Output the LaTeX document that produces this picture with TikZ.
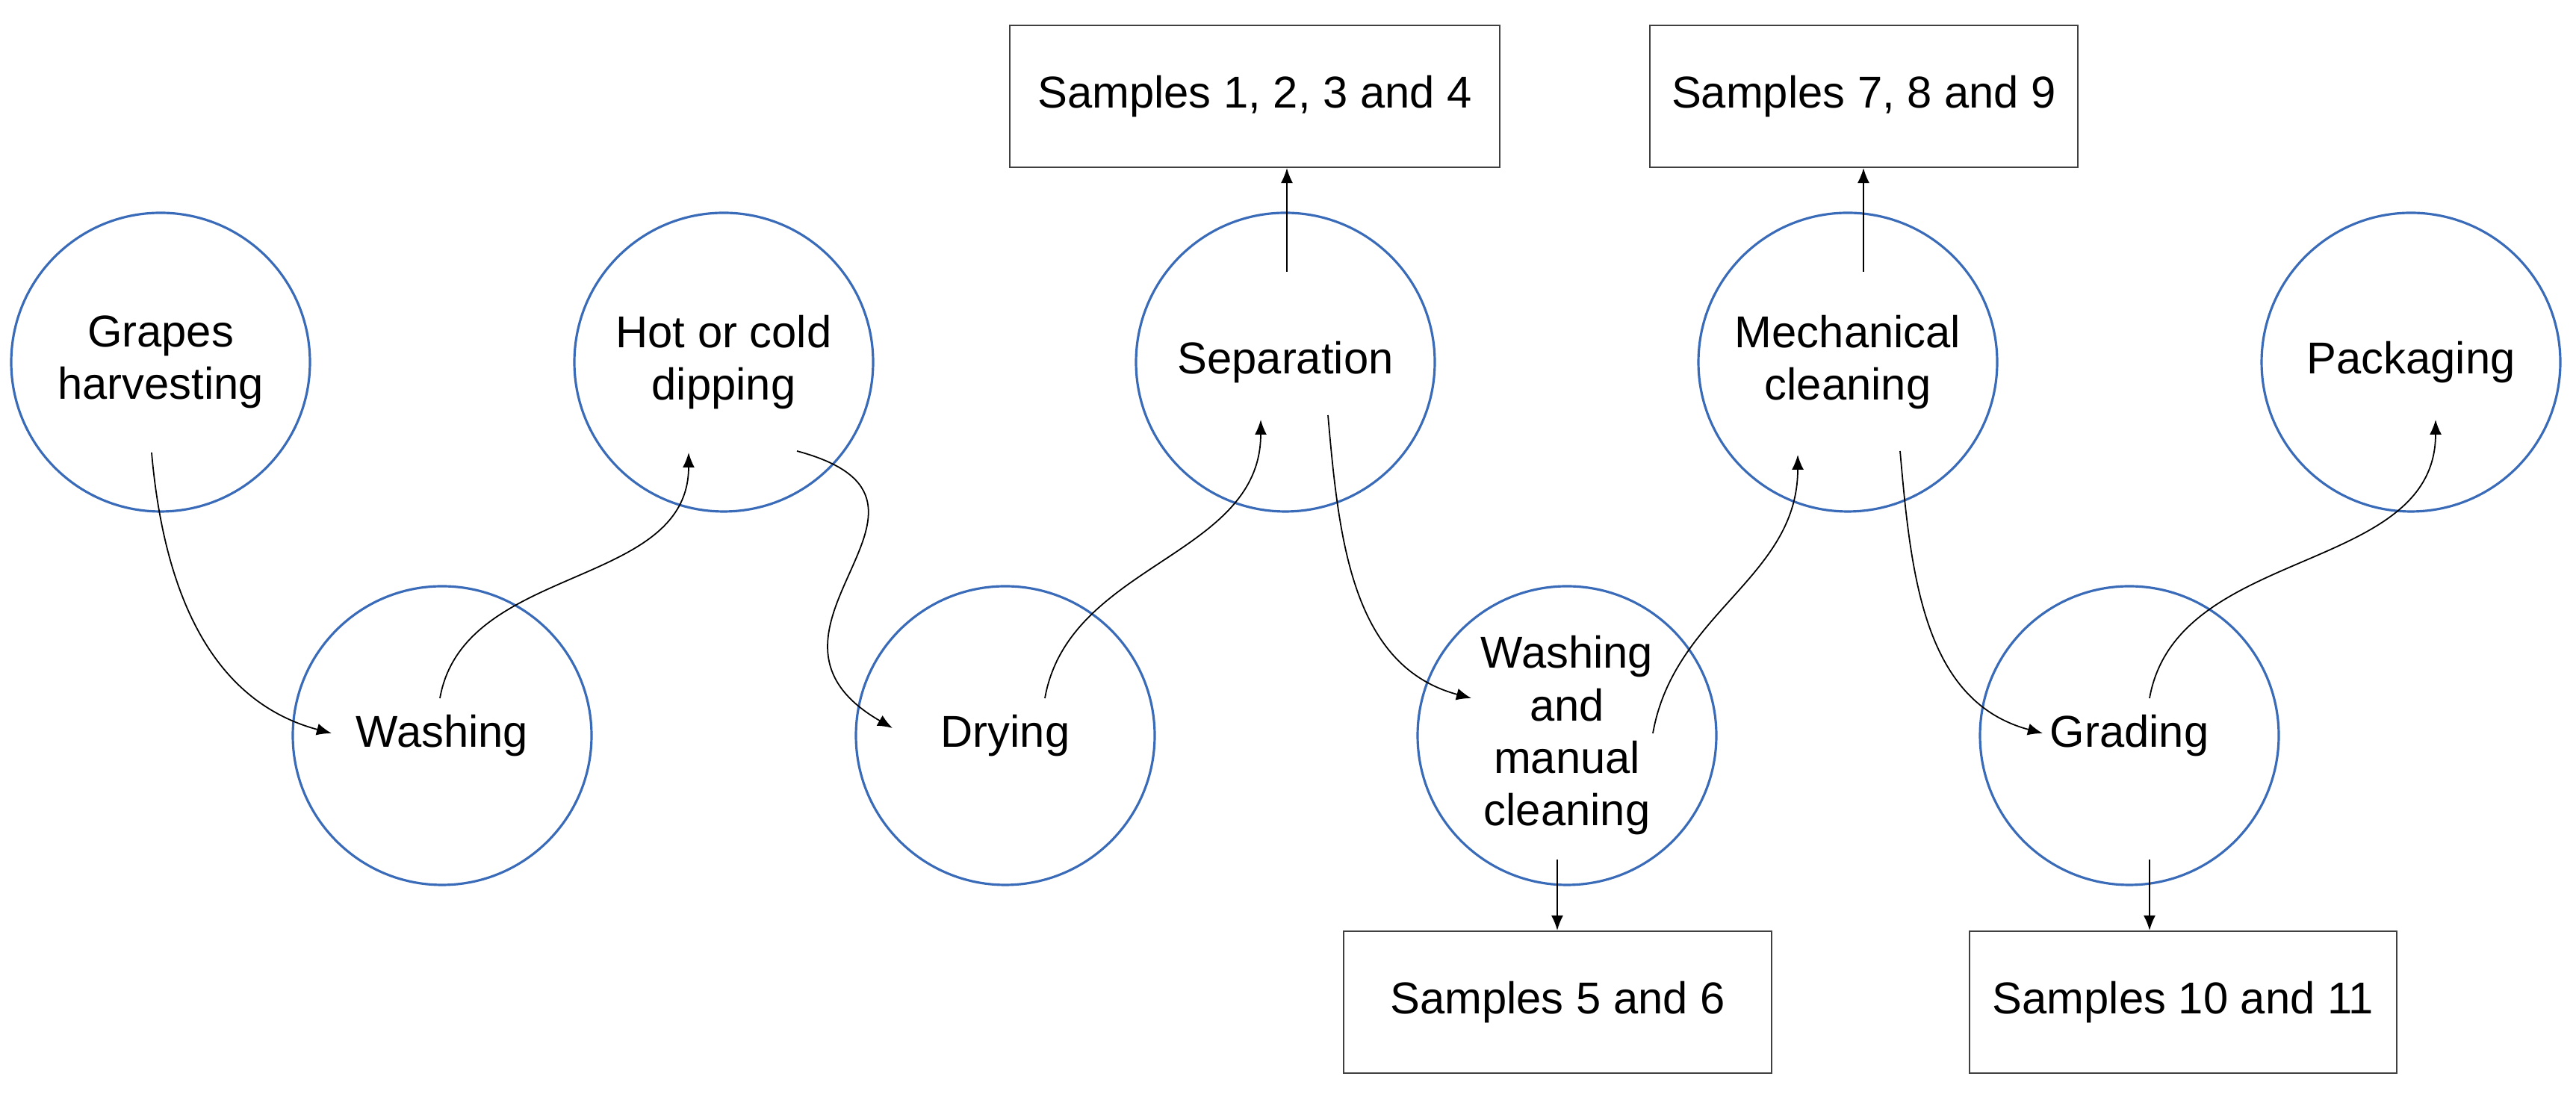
\documentclass[tikz,border=0pt]{standalone}
\usepackage{fontspec}
\setmainfont{Liberation Sans}
\usetikzlibrary{arrows.meta, positioning}
\definecolor{stepblue}{HTML}{3A6BB8}
\tikzset{
    stage/.style={
        circle, draw=stepblue, line width=0.9pt,
        inner sep=0pt, minimum size=4cm,
        align=center, font=\fontsize{17}{20}\selectfont
    },
    sample/.style={
        rectangle, draw=black!75, line width=0.6pt,
        minimum height=1.9cm, inner sep=0pt,
        font=\fontsize{17}{20}\selectfont
    },
    flow/.style={
        line width=0.5pt,
        -{Latex[length=2mm, width=1.6mm]},
    },
}
\begin{document}
\begin{tikzpicture}
        \useasboundingbox (0,0) rectangle (34.49,14.73);
        \node[stage] (grapes) at (2.15,9.88) {Grapes\\harvesting};
        \node[stage] (wash) at (5.92,4.88) {Washing};
        \node[stage] (dip) at (9.69,9.88) {Hot or cold\\dipping};
        \node[stage] (dry) at (13.46,4.88) {Drying};
        \node[stage] (sep) at (17.21,9.88) {Separation};
        \node[stage] (manual) at (20.98,4.88) {Washing\\and\\manual\\cleaning};
        \node[stage] (mech) at (24.74,9.88) {Mechanical\\cleaning};
        \node[stage] (grade) at (28.51,4.88) {Grading};
        \node[stage] (pack) at (32.28,9.88) {Packaging};

        \node[sample, minimum width=6.56cm] (s14) at (16.80,13.44) {Samples 1, 2, 3 and 4};
        \node[sample, minimum width=5.73cm] (s79) at (24.955,13.44) {Samples 7, 8 and 9};
        \node[sample, minimum width=5.73cm] (s56) at (20.855,1.31) {Samples 5 and 6};
        \node[sample, minimum width=5.72cm] (s1011) at (29.23,1.31) {Samples 10 and 11};

        % start and end points of the flow arrows
        \coordinate (a1) at (2.03,8.67);   \coordinate (b1) at (4.44,4.91);
        \coordinate (a2) at (5.89,5.38);   \coordinate (b2) at (9.22,8.67);
        \coordinate (a3) at (10.67,8.69);  \coordinate (b3) at (11.95,4.98);
        \coordinate (a4) at (13.99,5.38);  \coordinate (b4) at (16.88,9.11);
        \coordinate (a5) at (17.78,9.17);  \coordinate (b5) at (19.70,5.38);
        \coordinate (a6) at (22.13,4.91);  \coordinate (b6) at (24.07,8.64);
        \coordinate (a7) at (25.44,8.69);  \coordinate (b7) at (27.35,4.91);
        \coordinate (a8) at (28.78,5.38);  \coordinate (b8) at (32.61,9.11);

        \foreach \i in {1,5,7}
            \draw[flow] (a\i) to[out=-85, in=165] (b\i);
        \draw[flow] (a3) to[out=-15, in=150, looseness=1.7] (b3);
        \foreach \i in {2,4,6,8}
            \draw[flow] (a\i) to[out=80, in=-90] (b\i);

        \coordinate (u1) at (17.23,11.09);
        \coordinate (u2) at (24.95,11.09);
        \coordinate (d1) at (20.85,3.22);
        \coordinate (d2) at (28.78,3.22);
        \draw[flow] (u1) -- (u1 |- s14.south);
        \draw[flow] (u2) -- (u2 |- s79.south);
        \draw[flow] (d1) -- (d1 |- s56.north);
        \draw[flow] (d2) -- (d2 |- s1011.north);
\end{tikzpicture}
\end{document}
